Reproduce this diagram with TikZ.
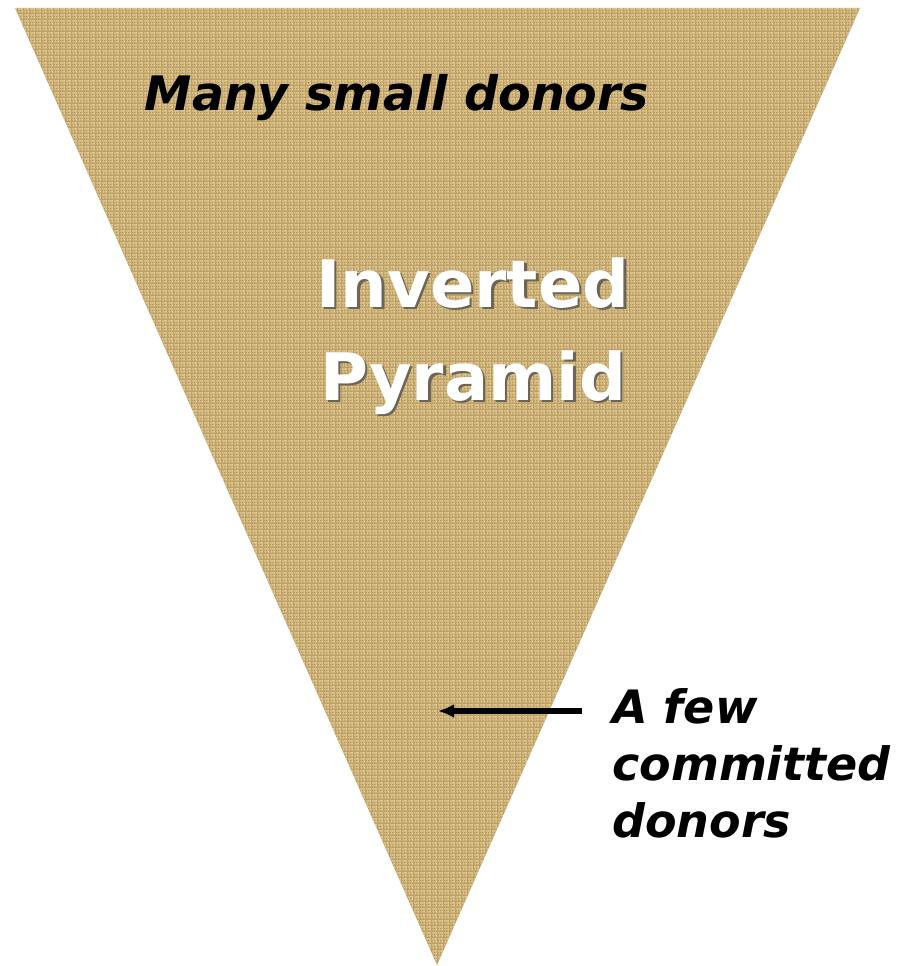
\documentclass[tikz,border=0pt]{standalone}
\usepackage{fontspec}
\usepackage{xcolor}
\usetikzlibrary{arrows.meta,positioning,patterns}
\newfontfamily\verdfont{DejaVu Sans}
\definecolor{burlap}{HTML}{BE9F63}
\definecolor{dburlap}{HTML}{6E5228}
\definecolor{lburlap}{HTML}{EEDCAA}
\definecolor{shade}{HTML}{3A3020}
% basket weave threads
\pgfdeclarepatternformonly{weave}{\pgfpointorigin}{\pgfpoint{6pt}{6pt}}{\pgfpoint{6pt}{6pt}}{
 \pgfpathrectangle{\pgfpoint{0.3pt}{0.4pt}}{\pgfpoint{2.4pt}{0.9pt}}
 \pgfpathrectangle{\pgfpoint{0.3pt}{1.8pt}}{\pgfpoint{2.4pt}{0.9pt}}
 \pgfpathrectangle{\pgfpoint{3.4pt}{0.3pt}}{\pgfpoint{0.9pt}{2.4pt}}
 \pgfpathrectangle{\pgfpoint{4.8pt}{0.3pt}}{\pgfpoint{0.9pt}{2.4pt}}
 \pgfpathrectangle{\pgfpoint{0.4pt}{3.3pt}}{\pgfpoint{0.9pt}{2.4pt}}
 \pgfpathrectangle{\pgfpoint{1.8pt}{3.3pt}}{\pgfpoint{0.9pt}{2.4pt}}
 \pgfpathrectangle{\pgfpoint{3.3pt}{3.4pt}}{\pgfpoint{2.4pt}{0.9pt}}
 \pgfpathrectangle{\pgfpoint{3.3pt}{4.8pt}}{\pgfpoint{2.4pt}{0.9pt}}
 \pgfusepath{fill}
}
\pgfdeclarepatternformonly{weavegaps}{\pgfpointorigin}{\pgfpoint{6pt}{6pt}}{\pgfpoint{6pt}{6pt}}{
 \pgfpathrectangle{\pgfpoint{2.8pt}{2.8pt}}{\pgfpoint{0.6pt}{0.6pt}}
 \pgfpathrectangle{\pgfpoint{-0.2pt}{-0.2pt}}{\pgfpoint{0.5pt}{0.5pt}}
 \pgfpathrectangle{\pgfpoint{2.8pt}{-0.2pt}}{\pgfpoint{0.5pt}{0.5pt}}
 \pgfpathrectangle{\pgfpoint{-0.2pt}{2.8pt}}{\pgfpoint{0.5pt}{0.5pt}}
 \pgfusepath{fill}
}
\newcommand{\shtext}[1]{\makebox[0pt][l]{\hspace{2.5pt}\raisebox{-2.5pt}{\textcolor{shade!75}{#1}}}#1}
\tikzset{
 italbl/.style={font=\verdfont\bfseries\itshape,text=black,inner sep=0pt},
 titlbl/.style={font=\verdfont\bfseries,text=white,inner sep=0pt,align=center},
 arrow/.style={-{Latex[length=16pt,width=14pt]},line width=6pt,draw=black}
}
\begin{document}
\begin{tikzpicture}[x=1pt,y=-1pt]
 \useasboundingbox (0,0) rectangle (917,966);
 % burlap triangle
 \fill[burlap] (15,8) -- (860,8) -- (437,965) -- cycle;
 \fill[pattern=weave,pattern color=lburlap,opacity=0.75] (15,8) -- (860,8) -- (437,965) -- cycle;
 \fill[pattern=weavegaps,pattern color=dburlap,opacity=0.8] (15,8) -- (860,8) -- (437,965) -- cycle;
 \node[italbl,font=\verdfont\bfseries\itshape\fontsize{47.5}{54}\selectfont,anchor=base] (many) at (397,110) {Many small donors};
 \node[titlbl,font=\verdfont\bfseries\fontsize{65.5}{93}\selectfont,anchor=base] (title) at (473,400) {\shtext{Inverted}\\\shtext{Pyramid}};
 \node[italbl,font=\verdfont\bfseries\itshape\fontsize{46}{57}\selectfont,align=left,anchor=north west] (few) at (612,688) {A few\\committed\\donors};
 \coordinate (tail) at (582,711);
 \coordinate (tip) at (438,711);
 \draw[arrow] (tail) -- (tip);
\end{tikzpicture}
\end{document}
